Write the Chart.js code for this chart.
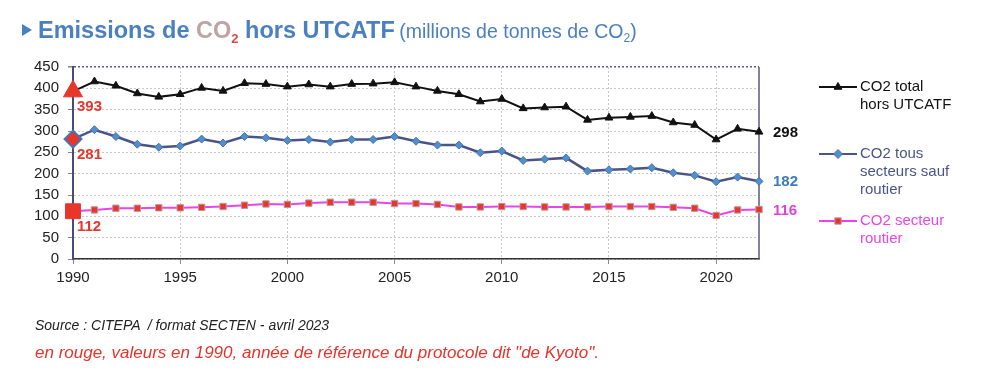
<!DOCTYPE html>
<html>
<head>
<meta charset="utf-8">
<script src="https://cdn.jsdelivr.net/npm/chart.js@4/dist/chart.umd.min.js"></script>
<style>
  body { margin: 0; background: #fff; font-family: "Liberation Sans", Arial, sans-serif; }
  #wrap { position: relative; width: 1000px; height: 372px; overflow: hidden; }
  #chart { position: absolute; left: 0; top: 0; }
  .title { position: absolute; left: 22px; top: 17px; white-space: nowrap; color: #4a80c2; }
  .tri { display: inline-block; width: 0; height: 0; border-top: 6px solid transparent; border-bottom: 6px solid transparent; border-left: 10px solid #4a80c2; margin-right: 6px; vertical-align: 2px; }
  .big { font-weight: bold; font-size: 23.5px; }
  .co { color: #c0a2a2; }
  .co sub { color: #d84a4a; font-size: 13px; vertical-align: -5px; line-height: 0; }
  .small { font-size: 19.5px; }
  .small sub { font-size: 12px; vertical-align: -4px; line-height: 0; }
  .src { position: absolute; left: 35px; top: 317px; font-style: italic; font-size: 14px; color: #222; white-space: pre; }
  .note { position: absolute; left: 35px; top: 343px; font-style: italic; font-size: 17px; color: #e8322a; white-space: nowrap; }
</style>
</head>
<body>
<div id="wrap">
  <canvas id="chart" width="1000" height="372"></canvas>
  <div class="title"><span class="tri"></span><span class="big">Emissions de <span class="co">CO<sub>2</sub></span> hors UTCATF</span> <span class="small">(millions de tonnes de CO<sub>2</sub>)</span></div>
  <div class="src">Source : CITEPA  / format SECTEN - avril 2023</div>
  <div class="note">en rouge, valeurs en 1990, année de référence du protocole dit "de Kyoto".</div>
</div>
<script>
// années 1990 -> 2022
const years = [1990, 1991, 1992, 1993, 1994, 1995, 1996, 1997, 1998, 1999,
               2000, 2001, 2002, 2003, 2004, 2005, 2006, 2007, 2008, 2009,
               2010, 2011, 2012, 2013, 2014, 2015, 2016, 2017, 2018, 2019,
               2020, 2021, 2022];

// CO2 total hors UTCATF
const totalCO2 = [393, 416, 406, 388, 380, 386, 401, 394, 412, 410,
                  404, 409, 404, 410, 411, 414, 404, 394, 386, 369,
                  375, 353, 355, 357, 326, 331, 333, 335, 320, 314,
                  280, 305, 298];

// CO2 tous secteurs sauf routier
const horsRoutier = [281, 303, 287, 269, 262, 265, 281, 272, 287, 284,
                     278, 280, 274, 280, 280, 287, 276, 267, 267, 249,
                     253, 231, 234, 237, 206, 209, 211, 214, 202, 196,
                     181, 192, 182];

// CO2 secteur routier
const routier = [112, 115, 119, 119, 120, 120, 121, 123, 126, 129,
                 128, 131, 133, 133, 133, 130, 130, 128, 122, 122,
                 123, 123, 122, 122, 122, 123, 123, 123, 121, 119,
                 102, 115, 116];

const yTicks = [0, 50, 100, 150, 200, 250, 300, 350, 400, 450];
const xTicks = [1990, 1995, 2000, 2005, 2010, 2015, 2020];

const legendLabels = [
    ['CO2 total', 'hors UTCATF'],
    ['CO2 tous', 'secteurs sauf', 'routier'],
    ['CO2 secteur', 'routier']
];

const RED = '#e8362b';
const FONT = '"Liberation Sans", Arial, sans-serif';

function pts(values) {
    return years.map((y, i) => ({ x: y, y: values[i] }));
}

// bord droit du cadre
const framePlugin = {
    id: 'frame',
    beforeDatasetsDraw(chart) {
        const { ctx, chartArea: a } = chart;
        ctx.save();
        ctx.strokeStyle = '#5a5a82';
        ctx.lineWidth = 1.5;
        ctx.beginPath();
        ctx.moveTo(a.right, a.top);
        ctx.lineTo(a.right, a.bottom);
        ctx.stroke();
        ctx.restore();
    }
};

// étiquettes 1990 (rouge) et 2022
const labelsPlugin = {
    id: 'valueLabels',
    afterDatasetsDraw(chart) {
        const ctx = chart.ctx;
        const endColors = ['#111', '#3b7cba', '#e040e0'];
        ctx.save();
        ctx.font = 'bold 15px ' + FONT;
        ctx.textBaseline = 'middle';
        ctx.textAlign = 'left';
        chart.data.datasets.forEach((ds, i) => {
            const meta = chart.getDatasetMeta(i);
            const first = meta.data[0];
            const last = meta.data[meta.data.length - 1];
            ctx.fillStyle = RED;
            ctx.fillText(String(ds.data[0].y), first.x + 4, first.y + 16);
            ctx.fillStyle = endColors[i];
            ctx.fillText(String(ds.data[ds.data.length - 1].y), last.x + 14, last.y + 1);
        });
        ctx.restore();
    }
};

// légende à droite, sur plusieurs lignes
const legendPlugin = {
    id: 'sideLegend',
    afterDraw(chart) {
        const ctx = chart.ctx;
        const ys = [87, 154, 221];
        const textColors = ['#111', '#4a5488', '#e844e8'];
        ctx.save();
        chart.data.datasets.forEach((ds, i) => {
            const y = ys[i];
            ctx.strokeStyle = ds.borderColor;
            ctx.lineWidth = 2;
            ctx.beginPath();
            ctx.moveTo(819, y);
            ctx.lineTo(857, y);
            ctx.stroke();
            ctx.fillStyle = ds.legendFill;
            ctx.strokeStyle = ds.legendStroke;
            ctx.lineWidth = 1;
            Chart.helpers.drawPoint(ctx, { pointStyle: ds.pointStyle, radius: 4.5, rotation: 0, borderWidth: 1 }, 838, y);
            ctx.fillStyle = textColors[i];
            ctx.font = '15px ' + FONT;
            ctx.textBaseline = 'middle';
            ctx.textAlign = 'left';
            legendLabels[i].forEach((t, k) => ctx.fillText(t, 860, y + k * 18));
        });
        ctx.restore();
    }
};

new Chart(document.getElementById('chart'), {
    type: 'line',
    data: {
        datasets: [
            {
                label: 'CO2 total hors UTCATF',
                data: pts(totalCO2),
                clip: false,
                borderColor: '#111',
                borderWidth: 2,
                pointStyle: 'triangle',
                pointRadius: c => c.dataIndex === 0 ? 11 : 4.5,
                pointBackgroundColor: c => c.dataIndex === 0 ? RED : '#111',
                pointBorderColor: c => c.dataIndex === 0 ? RED : '#111',
                pointBorderWidth: 1,
                legendFill: '#111',
                legendStroke: '#111'
            },
            {
                label: 'CO2 tous secteurs sauf routier',
                data: pts(horsRoutier),
                clip: false,
                borderColor: '#4a5488',
                borderWidth: 2.5,
                pointStyle: 'rectRot',
                pointRadius: c => c.dataIndex === 0 ? 8.5 : 4,
                pointBackgroundColor: c => c.dataIndex === 0 ? RED : '#4d8fcf',
                pointBorderColor: c => c.dataIndex === 0 ? '#3a7ac0' : '#4a72a8',
                pointBorderWidth: c => c.dataIndex === 0 ? 2 : 1,
                legendFill: '#4d8fcf',
                legendStroke: '#4a72a8'
            },
            {
                label: 'CO2 secteur routier',
                data: pts(routier),
                clip: false,
                borderColor: '#e844e8',
                borderWidth: 2,
                pointStyle: 'rect',
                pointRadius: c => c.dataIndex === 0 ? 10.5 : 4.5,
                pointBackgroundColor: RED,
                pointBorderColor: c => c.dataIndex === 0 ? RED : '#b89a9a',
                pointBorderWidth: 1,
                legendFill: RED,
                legendStroke: '#b89a9a'
            }
        ]
    },
    options: {
        responsive: false,
        animation: false,
        layout: { padding: { left: 0, right: 241, top: 67, bottom: 0 } },
        plugins: {
            legend: { display: false },
            title: { display: false },
            tooltip: { enabled: false }
        },
        scales: {
            x: {
                type: 'linear',
                min: 1990,
                max: 2022,
                afterFit: s => { s.height = 113; },
                afterBuildTicks: s => { s.ticks = xTicks.map(v => ({ value: v })); },
                ticks: {
                    callback: v => String(v),
                    color: '#222',
                    font: { family: FONT, size: 15 },
                    padding: 5,
                    maxRotation: 0
                },
                grid: { color: '#c8c8c8', tickLength: 5, tickColor: '#888' },
                border: { color: '#333', width: 1.5, dash: [2, 2] }
            },
            y: {
                min: 0,
                max: 450,
                afterFit: s => { s.width = 73; },
                afterBuildTicks: s => { s.ticks = yTicks.map(v => ({ value: v })); },
                ticks: {
                    color: '#222',
                    font: { family: FONT, size: 15 },
                    padding: 9
                },
                grid: {
                    color: c => c.tick && c.tick.value === 450 ? '#5a5a82' : '#c8c8c8',
                    lineWidth: c => c.tick && c.tick.value === 450 ? 1.5 : 1,
                    tickLength: 5,
                    tickColor: '#888'
                },
                border: { color: '#4a4a7a', width: 2, dash: [2, 2] }
            }
        }
    },
    plugins: [framePlugin, labelsPlugin, legendPlugin]
});
</script>
</body>
</html>
